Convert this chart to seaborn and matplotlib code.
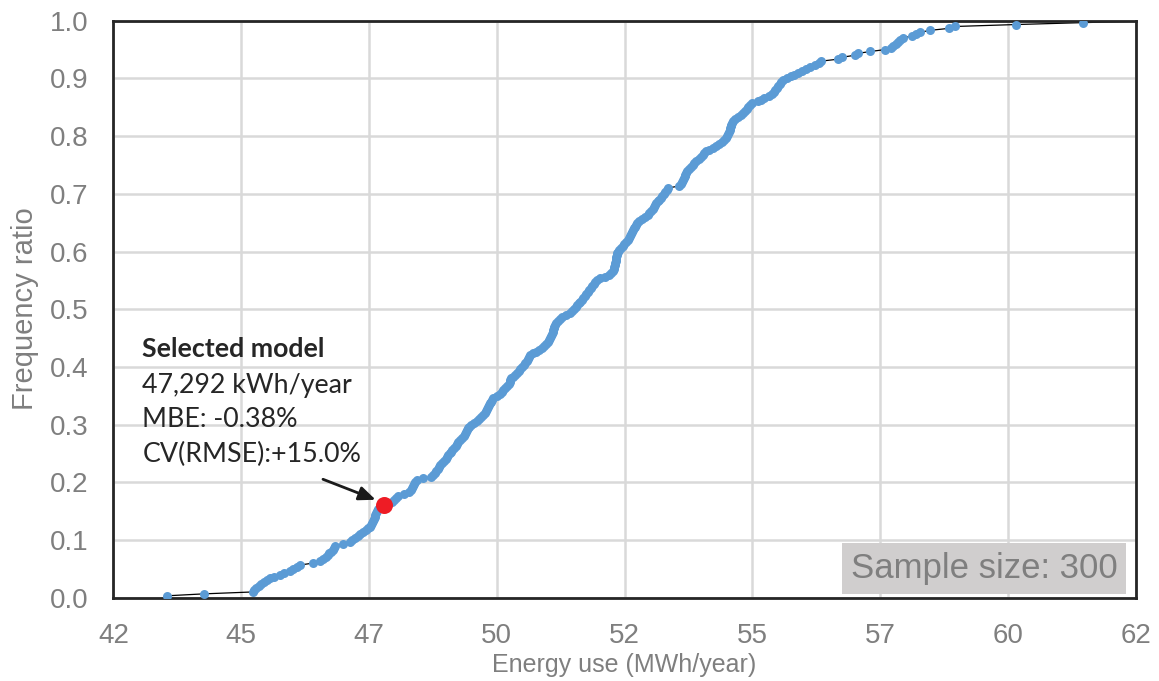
"""
Cumulative frequency of simulated annual energy use, with the selected model marked.
"""

import numpy as np
import pandas as pd

import matplotlib; matplotlib.use('Agg')
import matplotlib.pyplot as plt
import seaborn as sea

# sorted sample of annual energy use (MWh/year)
energy_use = [
    43.05, 43.77, 44.73, 44.76, 44.80, 44.84, 44.88, 44.94, 45.00, 45.07,
    45.15, 45.26, 45.33, 45.46, 45.52, 45.60, 45.65, 45.91, 46.05, 46.10,
    46.15, 46.19, 46.22, 46.26, 46.29, 46.32, 46.34, 46.49, 46.62, 46.67,
    46.72, 46.78, 46.83, 46.89, 46.95, 46.99, 47.02, 47.04, 47.06, 47.08,
    47.09, 47.11, 47.12, 47.14, 47.15, 47.18, 47.22, 47.29, 47.40, 47.45,
    47.49, 47.53, 47.57, 47.68, 47.78, 47.82, 47.85, 47.87, 47.89, 47.91,
    47.93, 48.05, 48.22, 48.26, 48.29, 48.32, 48.35, 48.37, 48.39, 48.42,
    48.46, 48.50, 48.53, 48.55, 48.58, 48.60, 48.63, 48.67, 48.70, 48.73,
    48.75, 48.78, 48.81, 48.85, 48.88, 48.90, 48.92, 48.94, 48.96, 49.00,
    49.06, 49.12, 49.16, 49.20, 49.23, 49.26, 49.29, 49.31, 49.33, 49.35,
    49.37, 49.38, 49.40, 49.42, 49.50, 49.57, 49.61, 49.63, 49.66, 49.70,
    49.73, 49.75, 49.76, 49.78, 49.82, 49.86, 49.90, 49.93, 49.96, 50.00,
    50.03, 50.06, 50.09, 50.11, 50.13, 50.15, 50.20, 50.26, 50.32, 50.38,
    50.43, 50.47, 50.50, 50.53, 50.55, 50.57, 50.58, 50.59, 50.60, 50.61,
    50.62, 50.64, 50.66, 50.70, 50.74, 50.78, 50.86, 50.93, 50.97, 51.01,
    51.04, 51.07, 51.10, 51.13, 51.16, 51.19, 51.22, 51.25, 51.28, 51.31,
    51.34, 51.37, 51.40, 51.43, 51.46, 51.52, 51.62, 51.70, 51.74, 51.77,
    51.79, 51.80, 51.81, 51.82, 51.83, 51.83, 51.84, 51.85, 51.86, 51.87,
    51.90, 51.93, 51.96, 51.99, 52.02, 52.06, 52.08, 52.10, 52.12, 52.15,
    52.17, 52.19, 52.21, 52.23, 52.25, 52.28, 52.34, 52.40, 52.45, 52.48,
    52.52, 52.55, 52.57, 52.60, 52.62, 52.65, 52.68, 52.71, 52.74, 52.77,
    52.80, 52.83, 52.84, 53.06, 53.10, 53.13, 53.15, 53.17, 53.18, 53.19,
    53.21, 53.23, 53.26, 53.30, 53.33, 53.36, 53.40, 53.45, 53.49, 53.53,
    53.56, 53.60, 53.66, 53.72, 53.78, 53.84, 53.90, 53.95, 53.98, 54.00,
    54.02, 54.04, 54.06, 54.07, 54.08, 54.09, 54.10, 54.12, 54.16, 54.22,
    54.28, 54.32, 54.36, 54.39, 54.42, 54.45, 54.50, 54.60, 54.66, 54.72,
    54.82, 54.88, 54.92, 54.95, 54.98, 55.01, 55.04, 55.06, 55.09, 55.18,
    55.26, 55.31, 55.40, 55.47, 55.55, 55.63, 55.72, 55.80, 55.85, 56.18,
    56.25, 56.50, 56.56, 56.81, 57.10, 57.22, 57.26, 57.30, 57.34, 57.38,
    57.44, 57.62, 57.70, 57.78, 57.98, 58.34, 58.47, 59.65, 60.97, 62.40,
]

selected_energy = 47.292   # MWh/year
selected_lines = ['47,292 kWh/year', 'MBE: -0.38%', 'CV(RMSE):+15.0%']

xticks = [42, 44.5, 47, 49.5, 52, 54.5, 57, 59.5, 62]
xticklabels = ['42', '45', '47', '50', '52', '55', '57', '60', '62']
yticks = [0.0, 0.1, 0.2, 0.3, 0.4, 0.5, 0.6, 0.7, 0.8, 0.9, 1.0]

df = pd.DataFrame({'energy': energy_use})
df = df.sort_values('energy').reset_index(drop=True)
df['ratio'] = df['energy'].rank(method='first') / len(df)
sel_ratio = (df['energy'] <= selected_energy).mean()

sea.set_style('white')
plt.rcParams['font.family'] = ['Liberation Sans', 'DejaVu Sans']
grey = '#7f7f7f'
calibri_like = ['Lato', 'DejaVu Sans']

fig = plt.figure(figsize=(11.59, 6.81), dpi=100)
ax = fig.add_axes([0.0978, 0.1223, 0.8822, 0.8473])

sea.lineplot(x='energy', y='ratio', data=df, sort=False, color='k',
             linewidth=0.9, ax=ax, zorder=2)
sea.scatterplot(x='energy', y='ratio', data=df, color='#5b9bd5', s=42,
                linewidth=0, ax=ax, zorder=3)
ax.scatter([selected_energy], [sel_ratio], s=150, color='#ee1c25',
           linewidth=0, zorder=5)

ax.set_xlim(42, 62)
ax.set_ylim(0, 1)
ax.set_xticks(xticks)
ax.set_xticklabels(xticklabels)
ax.set_yticks(yticks)
ax.set_yticklabels(['%.1f' % v for v in yticks])
ax.tick_params(axis='both', labelsize=20, colors=grey, length=0, pad=18)
ax.grid(True, color='#d9d9d9', linewidth=1.8, zorder=0)
ax.set_axisbelow(True)
for sp in ax.spines.values():
    sp.set_color('#262626')
    sp.set_linewidth(2)

ax.set_xlabel('Energy use (MWh/year)', fontsize=18, color=grey,
              va='baseline')
ax.xaxis.set_label_coords(0.5, -0.1293)
ax.set_ylabel('Frequency ratio', fontsize=21, color=grey, va='baseline')
ax.yaxis.set_label_coords(-0.0782, 0.5016)

# annotation for the selected model
ax.text(0.0285, 0.418, 'Selected model', transform=ax.transAxes,
        fontsize=19.3, fontweight='bold', family=calibri_like,
        color='#262626', va='baseline')
for k, line in enumerate(selected_lines):
    ax.text(0.0285, [0.355, 0.296, 0.235][k], line, transform=ax.transAxes,
            fontsize=19.3, family=calibri_like, color='#262626',
            va='baseline')
ax.annotate('', xy=(selected_energy - 0.11, sel_ratio + 0.008),
            xytext=(46.05, 0.207),
            arrowprops=dict(arrowstyle='-|>,head_length=1.0,head_width=0.42',
                            color='#1a1a1a', linewidth=2))

ax.text(0.982, 0.022, 'Sample size: 300', transform=ax.transAxes,
        fontsize=25, color=grey, ha='right', va='bottom',
        bbox=dict(boxstyle='square,pad=0.25', facecolor='#d0cece',
                  edgecolor='none'))

plt.savefig('out.png', dpi=100)
plt.close()
